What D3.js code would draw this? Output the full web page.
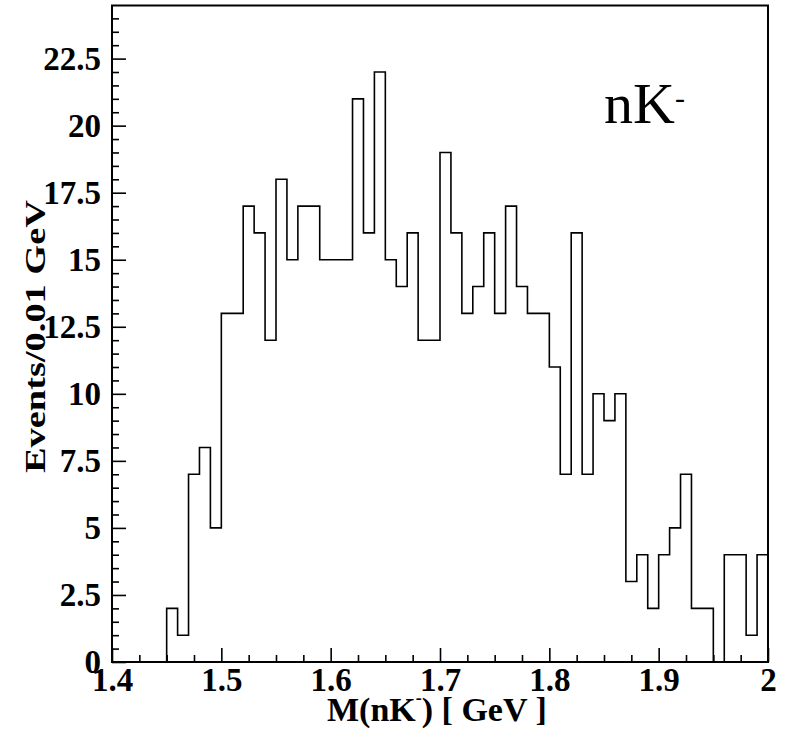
<!DOCTYPE html>
<html>
<head>
<meta charset="utf-8">
<script src="https://cdn.jsdelivr.net/npm/d3@7"></script>
<style>
  html, body { margin: 0; padding: 0; background: #fff; }
  svg { display: block; }
  text { font-family: "Liberation Serif", "Times New Roman", serif; fill: #000; }
</style>
</head>
<body>
<svg id="chart" width="789" height="729"></svg>
<script>
// ---- data ----
const binStart = 1.40;
const binWidth = 0.01;
const counts = [
  0, 0, 0, 0, 0, 2, 1, 7, 8, 5,
  13, 13, 17, 16, 12, 18, 15, 17, 17, 15,
  15, 15, 21, 16, 22, 15, 14, 16, 12, 12,
  19, 16, 13, 14, 16, 13, 17, 14, 13, 13,
  11, 7, 16, 7, 10, 9, 10, 3, 4, 2,
  4, 5, 7, 2, 2, 0, 4, 4, 1, 4
];
const xTicks = [1.4, 1.5, 1.6, 1.7, 1.8, 1.9, 2.0];
const xTickLabels = ["1.4", "1.5", "1.6", "1.7", "1.8", "1.9", "2"];
const yTicks = [0, 2.5, 5, 7.5, 10, 12.5, 15, 17.5, 20, 22.5];
const yTickLabels = ["0", "2.5", "5", "7.5", "10", "12.5", "15", "17.5", "20", "22.5"];
const xMinorStep = 0.025;
const yMinorStep = 0.5;
const xDomain = [1.4, 2.0];
const yDomain = [0, 24.48];
const xTitle = { main: "M(nK", sup: "-", rest: ") [ GeV ]" };
const yTitle = "Events/0.01 GeV";
const label = { main: "nK", sup: "-" };

// ---- layout ----
const L = 112, R = 768, T = 5.5, B = 662;
const svg = d3.select("#chart");
svg.append("rect").attr("width", 789).attr("height", 729).attr("fill", "#fff");

const x = d3.scaleLinear().domain(xDomain).range([L, R]);
const y = d3.scaleLinear().domain(yDomain).range([B, T]);

// minor ticks
const xMinor = d3.range(Math.round((xDomain[1] - xDomain[0]) / xMinorStep) + 1)
  .map(i => +(xDomain[0] + i * xMinorStep).toFixed(4))
  .filter(v => !xTicks.some(t => Math.abs(t - v) < 1e-6));
const yMinor = d3.range(Math.floor(yDomain[1] / yMinorStep) + 1)
  .map(i => +(i * yMinorStep).toFixed(4))
  .filter(v => !yTicks.some(t => Math.abs(t - v) < 1e-6));

const fontStyle = g => g.selectAll("text")
  .style("font-family", '"Liberation Serif", "Times New Roman", serif')
  .style("font-weight", "bold").style("font-size", "33px").attr("fill", "#000");

// x axis
const gx = svg.append("g").attr("transform", `translate(0,${B})`)
  .call(d3.axisBottom(x).tickValues(xTicks)
    .tickFormat((d, i) => xTickLabels[i]).tickSize(-14).tickPadding(5.5));
gx.select(".domain").remove();
gx.selectAll("line").attr("stroke", "#000").attr("stroke-width", 1.6);
fontStyle(gx);
const gxm = svg.append("g").attr("transform", `translate(0,${B})`)
  .call(d3.axisBottom(x).tickValues(xMinor).tickFormat("").tickSize(-7));
gxm.select(".domain").remove();
gxm.selectAll("line").attr("stroke", "#000").attr("stroke-width", 1.6);

// y axis
const gy = svg.append("g").attr("transform", `translate(${L},0)`)
  .call(d3.axisLeft(y).tickValues(yTicks)
    .tickFormat((d, i) => yTickLabels[i]).tickSize(-14).tickPadding(11));
gy.select(".domain").remove();
gy.selectAll("line").attr("stroke", "#000").attr("stroke-width", 1.6);
fontStyle(gy);
gy.selectAll("text").attr("dy", "0.33em");
const gym = svg.append("g").attr("transform", `translate(${L},0)`)
  .call(d3.axisLeft(y).tickValues(yMinor).tickFormat("").tickSize(-7));
gym.select(".domain").remove();
gym.selectAll("line").attr("stroke", "#000").attr("stroke-width", 1.6);

// histogram outline
const pts = [];
counts.forEach((c, i) => {
  const x0 = binStart + i * binWidth, x1 = x0 + binWidth;
  if (i === 0) pts.push([x0, 0]);
  pts.push([x0, c]); pts.push([x1, c]);
});
pts.push([binStart + counts.length * binWidth, 0]);
const line = d3.line().x(d => x(d[0])).y(d => y(d[1]));
svg.append("path").attr("d", line(pts))
  .attr("fill", "none").attr("stroke", "#000").attr("stroke-width", 1.6)
  .attr("stroke-linejoin", "miter");

// frame
svg.append("rect").attr("x", L).attr("y", T).attr("width", R - L).attr("height", B - T)
  .attr("fill", "none").attr("stroke", "#000").attr("stroke-width", 2);

// x title
const xt = svg.append("text").attr("x", 327).attr("y", 721)
  .style("font-size", "34px").style("font-weight", "bold");
xt.append("tspan").text(xTitle.main);
xt.append("tspan").style("font-size", "18px").attr("dy", -17).text(xTitle.sup);
xt.append("tspan").attr("dy", 17).text(xTitle.rest);

// y title
svg.append("text")
  .attr("transform", "translate(45,336.5) rotate(-90)")
  .attr("text-anchor", "middle")
  .attr("textLength", 273).attr("lengthAdjust", "spacingAndGlyphs")
  .style("font-size", "30px").style("font-weight", "bold")
  .text(yTitle);

// label
const lb = svg.append("text").attr("x", 604).attr("y", 123)
  .style("font-size", "58px");
lb.append("tspan").text(label.main);
lb.append("tspan").style("font-size", "30px").attr("dy", -15).text(label.sup);
</script>
</body>
</html>
